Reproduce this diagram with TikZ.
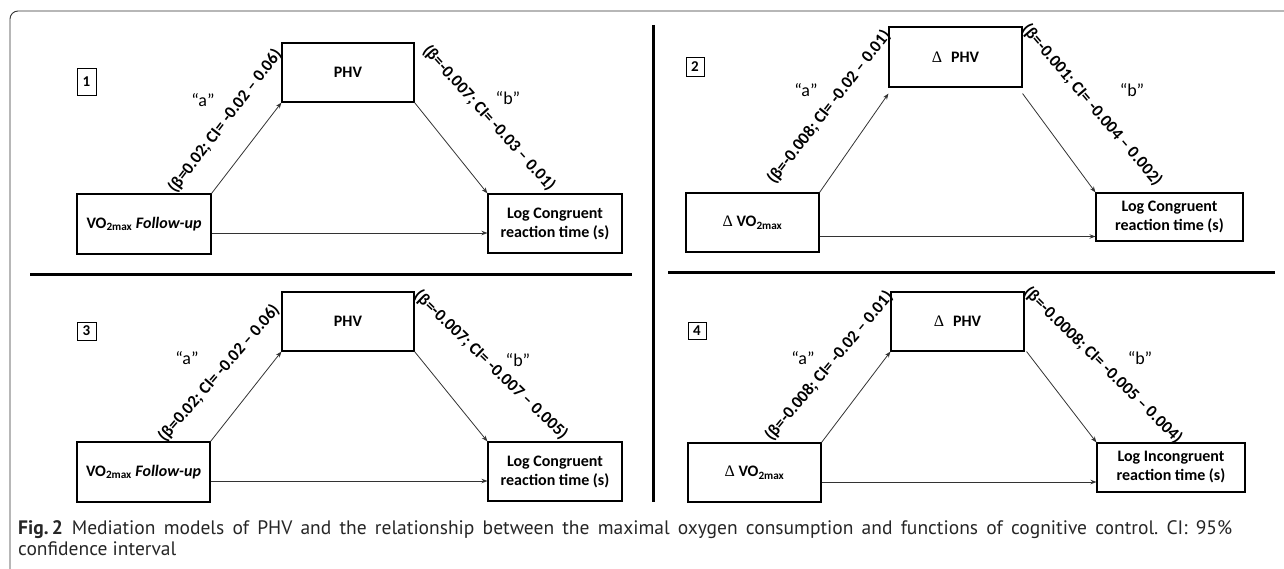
\documentclass[tikz,border=0pt]{standalone}
\usepackage{fontspec}
\setmainfont{Carlito}
\newfontfamily\dfont{Liberation Serif}
\newfontfamily\capfont{PT Sans}
\usetikzlibrary{arrows.meta}
\newcommand{\vomax}{VO\textsubscript{2max}}
\frenchspacing
\begin{document}
\begin{tikzpicture}[x=1pt,y=-1pt,
  box/.style={draw=black,line width=1.1pt,inner sep=0pt,align=center,
    font=\fontsize{16}{19}\selectfont\bfseries},
  numbox/.style={draw=black,line width=0.9pt,inner sep=0pt,
    font=\fontsize{15}{17}\selectfont\bfseries},
  arr/.style={draw=black!80,line width=0.8pt,-{Stealth[length=6pt,width=4.5pt]}},
  est/.style={font=\fontsize{17}{19}\selectfont\bfseries,inner sep=0pt},
  lab/.style={font=\fontsize{18}{20}\selectfont,inner sep=0pt},
  sepline/.style={line width=3pt,draw=black},
  frame/.style={line width=0.9pt,draw=black!80,rounded corners=8pt}
]
\useasboundingbox (0,0) rectangle (1284,569);
\draw[frame] (10,569) -- (10,11) -- (1284,11);

% separators
\draw[sepline] (30,274) -- (632,274);
\draw[sepline] (668,272) -- (1275,272);
\draw[sepline] (653,25) -- (653,502);

% ---------- panel 1
\node[numbox,minimum width=19pt,minimum height=27pt] (p1num) at (86.5,81.5) {1};
\node[box,minimum width=132pt,minimum height=59pt] (p1phv) at (348,72.5) {PHV};
\node[box,minimum width=134pt,minimum height=60pt] (p1vo) at (144,224) {\vomax{} \textit{Follow-up}};
\node[box,minimum width=134pt,minimum height=59pt] (p1log) at (555,223.5) {Log Congruent\\reaction time (s)};
\draw[arr] (p1vo.north east) -- (p1phv.south west);
\draw[arr] (p1phv.south east) -- (p1log.north west);
\coordinate (p1s) at ([yshift=-9pt]p1vo.east);
\draw[arr] (p1s) -- (p1s -| p1log.west);
\node[lab] (p1a) at (203,100) {“a”};
\node[lab] (p1b) at (508,98) {“b”};
\node[est,rotate=52.5] (p1ea) at (225,121) {(β=0.02; CI= -0.02 – 0.06)};
\node[est,rotate=-48] (p1eb) at (489,118) {(β=-0.007; CI= -0.03 – 0.01)};

% ---------- panel 2
\node[numbox,minimum width=18pt,minimum height=19pt] (p2num) at (695,66.5) {2};
\node[box,minimum width=133pt,minimum height=60pt] (p2phv) at (955.5,57) {{\dfont\mdseries Δ}\hspace{9pt}PHV};
\node[box,minimum width=133pt,minimum height=59pt] (p2vo) at (752.5,222.5) {{\dfont\mdseries Δ} \vomax};
\node[box,minimum width=147pt,minimum height=48pt] (p2log) at (1169.5,217) {Log Congruent\\reaction time (s)};
\draw[arr] (p2vo.north east) -- ([yshift=-6pt]p2phv.south west);
\draw[arr] ([yshift=-6pt]p2phv.south east) -- (p2log.north west);
\coordinate (p2s) at ([yshift=-14pt]p2vo.east);
\draw[arr] (p2s) -- (p2s -| p2log.west);
\node[lab] (p2a) at (806,90) {“a”};
\node[lab] (p2b) at (1132,90) {“b”};
\node[est,rotate=52] (p2ea) at (829,107) {(β=-0.008; CI= -0.02 – 0.01)};
\node[est,rotate=-49.5] (p2eb) at (1092,105) {(β=-0.001; CI= -0.004 – 0.002)};

% ---------- panel 3
\node[numbox,minimum width=19pt,minimum height=18pt] (p3num) at (86.5,331) {3};
\node[box,minimum width=132pt,minimum height=59pt] (p3phv) at (348,321.5) {PHV};
\node[box,minimum width=133pt,minimum height=60pt] (p3vo) at (143.5,472) {\vomax{} \textit{Follow-up}};
\node[box,minimum width=134pt,minimum height=59pt] (p3log) at (555,471.5) {Log Congruent\\reaction time (s)};
\draw[arr] (p3vo.north east) -- (p3phv.south west);
\draw[arr] (p3phv.south east) -- (p3log.north west);
\coordinate (p3s) at ([yshift=-9pt]p3vo.east);
\draw[arr] (p3s) -- (p3s -| p3log.west);
\node[lab] (p3a) at (187,358) {“a”};
\node[lab] (p3b) at (518,360) {“b”};
\node[est,rotate=49] (p3ea) at (219,373) {(β=0.02; CI= -0.02 – 0.06)};
\node[est,rotate=-44] (p3eb) at (491,365) {(β=-0.007; CI= -0.007 – 0.005)};

% ---------- panel 4
\node[numbox,minimum width=18pt,minimum height=17pt] (p4num) at (697,330.5) {4};
\node[box,minimum width=133pt,minimum height=59pt] (p4phv) at (957.5,321.5) {{\dfont\mdseries Δ}\hspace{9pt}PHV};
\node[box,minimum width=133pt,minimum height=59pt] (p4vo) at (754.5,472.5) {{\dfont\mdseries Δ} \vomax};
\node[box,minimum width=148pt,minimum height=49pt] (p4log) at (1171,467.5) {Log Incongruent\\reaction time (s)};
\draw[arr] (p4vo.north east) -- (p4phv.south west);
\draw[arr] ([xshift=2pt]p4phv.south east) -- (p4log.north west);
\coordinate (p4s) at ([yshift=-9.5pt]p4vo.east);
\draw[arr] (p4s) -- (p4s -| p4log.west);
\node[lab] (p4a) at (803,358) {“a”};
\node[lab] (p4b) at (1140,358) {“b”};
\node[est,rotate=50] (p4ea) at (829,366) {(β=-0.008; CI= -0.02 – 0.01)};
\node[est,rotate=-44.5] (p4eb) at (1103,365) {(β=-0.0008; CI= -0.005 – 0.004)};

% ---------- caption
\node[anchor=north west,align=justify,text width=1214pt,inner sep=0pt,text=black!85,
  font=\capfont\fontsize{19.5}{21}\selectfont] (cap) at (18,520)
  {\mbox{\textbf{Fig.\,2}}\hspace{9pt}Mediation models of PHV and the relationship between the maximal oxygen consumption and functions of cognitive control. CI: 95\%\linebreak confidence interval};
\end{tikzpicture}
\end{document}
